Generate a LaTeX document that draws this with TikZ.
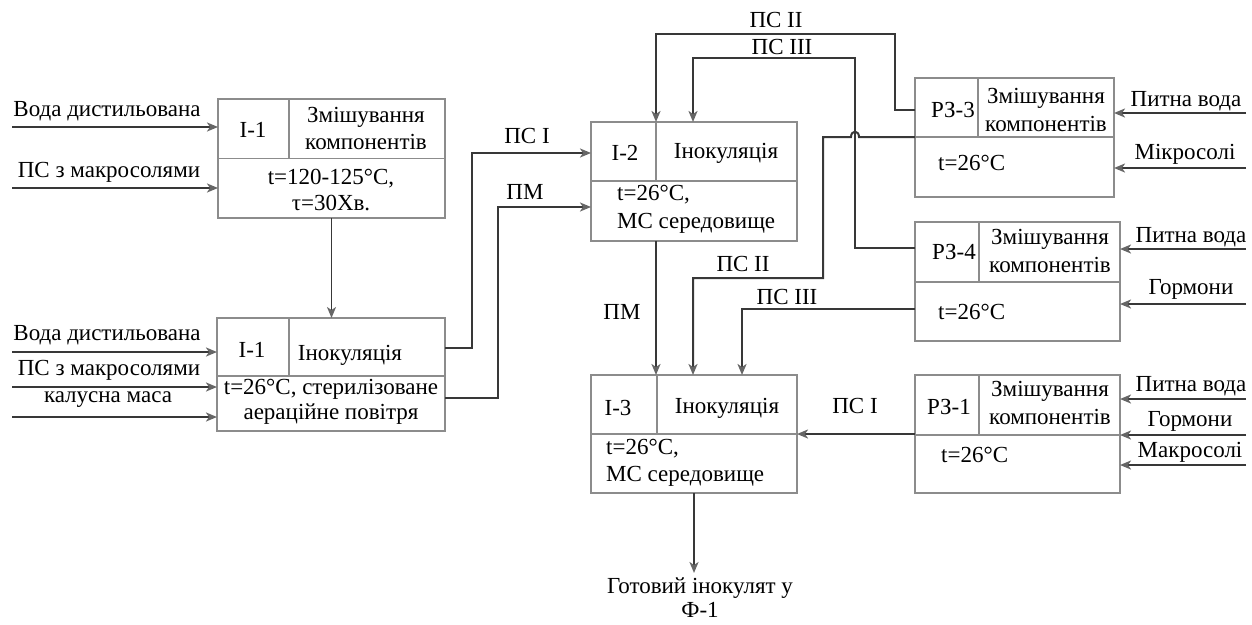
\documentclass[tikz,border=0pt]{standalone}
\usepackage{fontspec}
\setmainfont{Liberation Serif}
\usetikzlibrary{arrows.meta}
\tikzset{
  boxnode/.style 2 args={draw=black!45, line width=1.1pt, minimum width=#1, minimum height=#2, inner sep=0pt, outer sep=0pt},
  divline/.style={draw=black!45, line width=1.1pt},
  flow/.style={draw=black!78, line width=2pt, -{Stealth[length=11pt,width=9pt,inset=3pt,color=black!60]}},
  txt/.style={font=\fontsize{23}{27}\selectfont, inner sep=0pt, align=center},
  ltxt/.style={font=\fontsize{23}{28}\selectfont, inner sep=0pt, align=left, anchor=west},
}
\begin{document}
\begin{tikzpicture}[x=1pt,y=-1pt]
\useasboundingbox (0,0) rectangle (1252,624);

% boxes
\node[boxnode={227pt}{119pt}] (A) at (331.5,158.5) {};
\node[boxnode={228pt}{113pt}] (B) at (331,374.5) {};
\node[boxnode={206pt}{119pt}] (I2) at (694,181.5) {};
\node[boxnode={206pt}{118pt}] (I3) at (694,434) {};
\node[boxnode={199pt}{119pt}] (R3) at (1014.5,137.5) {};
\node[boxnode={205pt}{119pt}] (R4) at (1017.5,281.5) {};
\node[boxnode={205pt}{118pt}] (R1) at (1017.5,434) {};

% dividers
\draw[divline] (A.west |- 0,158.7) -- (A.east |- 0,158.7);
\draw[divline] (A.north -| 289,0) -- (289,158.7);
\draw[divline] (B.west |- 0,376) -- (B.east |- 0,376);
\draw[divline] (B.north -| 289,0) -- (289,376);
\draw[divline] (I2.west |- 0,181) -- (I2.east |- 0,181);
\draw[divline] (I2.north -| 656,0) -- (656,181);
\draw[divline] (I3.west |- 0,434) -- (I3.east |- 0,434);
\draw[divline] (I3.north -| 657,0) -- (657,434);
\draw[divline] (R3.west |- 0,137) -- (R3.east |- 0,137);
\draw[divline] (R3.north -| 978,0) -- (978,137);
\draw[divline] (R4.west |- 0,282) -- (R4.east |- 0,282);
\draw[divline] (R4.north -| 979,0) -- (979,282);
\draw[divline] (R1.west |- 0,435) -- (R1.east |- 0,435);
\draw[divline] (R1.north -| 979,0) -- (979,435);

% box texts
\node[txt] (A1) at (253,130) {I-1};
\node[txt] (A2) at (366,128) {Змішування\\компонентів};
\node[txt, font=\fontsize{23}{26}\selectfont] (A3) at (331,190) {t=120-125°C,\\τ=30Хв.};
\node[txt] (B1) at (252,350) {I-1};
\node[txt] (B2) at (350,355) {Інокуляція};
\node[txt, font=\fontsize{23}{25}\selectfont] (B3) at (331,402) {t=26°C, стерилізоване\\аераційне повітря};
\node[txt] (I21) at (625,153) {I-2};
\node[txt] (I22) at (726,153) {Інокуляція};
\node[ltxt] (I23) at (617,209) {t=26°C,\\МС середовище};
\node[txt] (I31) at (618,408) {I-3};
\node[txt] (I32) at (727,408) {Інокуляція};
\node[ltxt, font=\fontsize{23}{27}\selectfont] (I33) at (606,463) {t=26°C,\\МС середовище};
\node[txt] (R31) at (953,110) {РЗ-3};
\node[txt, font=\fontsize{23}{28}\selectfont] (R32) at (1046,110) {Змішування\\компонентів};
\node[ltxt] (R33) at (938,163) {t=26°C};
\node[txt] (R41) at (954,252) {РЗ-4};
\node[txt, font=\fontsize{23}{28}\selectfont] (R42) at (1050,251) {Змішування\\компонентів};
\node[ltxt] (R43) at (938,312) {t=26°C};
\node[txt] (R11) at (949,407) {РЗ-1};
\node[txt, font=\fontsize{23}{28}\selectfont] (R12) at (1050,403) {Змішування\\компонентів};
\node[ltxt] (R13) at (941,455) {t=26°C};

% left inputs
\coordinate (la1) at (12,127);
\coordinate (la2) at (12,188);
\coordinate (lb1) at (12,352);
\coordinate (lb2) at (12,387);
\coordinate (lb3) at (12,417);
\draw[flow] (la1) -- (la1 -| A.west);
\draw[flow] (la2) -- (la2 -| A.west);
\draw[flow] (lb1) -- (lb1 -| B.west);
\draw[flow] (lb2) -- (lb2 -| B.west);
\draw[flow] (lb3) -- (lb3 -| B.west);
\node[txt] (tla1) at (107,111) {Вода дистильована};
\node[txt] (tla2) at (109,172) {ПС з макросолями};
\node[txt] (tlb1) at (107,335) {Вода дистильована};
\node[txt] (tlb2) at (109,370) {ПС з макросолями};
\node[txt] (tlb3) at (108,400) {калусна маса};

% right inputs
\coordinate (r31) at (1246,113);
\coordinate (r32) at (1246,168);
\coordinate (r41) at (1246,249);
\coordinate (r42) at (1246,304);
\coordinate (r11) at (1246,399);
\coordinate (r12) at (1246,435);
\coordinate (r13) at (1246,465);
\draw[flow] (r31) -- (r31 -| R3.east);
\draw[flow] (r32) -- (r32 -| R3.east);
\draw[flow] (r41) -- (r41 -| R4.east);
\draw[flow] (r42) -- (r42 -| R4.east);
\draw[flow] (r11) -- (r11 -| R1.east);
\draw[flow] (r12) -- (r12 -| R1.east);
\draw[flow] (r13) -- (r13 -| R1.east);
\node[txt] (tr31) at (1186,101) {Питна вода};
\node[txt] (tr32) at (1185,154) {Мікросолі};
\node[txt] (tr41) at (1191,237) {Питна вода};
\node[txt] (tr42) at (1191,289) {Гормони};
\node[txt] (tr11) at (1191,386) {Питна вода};
\node[txt] (tr12) at (1190,421) {Гормони};
\node[txt] (tr13) at (1190,452) {Макросолі};

% A -> B
\draw[flow, line width=1.5pt] (A.south) -- (A.south |- B.north);

% B -> I2
\draw[flow] (B.east |- 0,348) -- (472,348) -- (472,153) -- (I2.west |- 0,153);
\draw[flow] (B.east |- 0,398) -- (498,398) -- (498,207) -- (I2.west |- 0,207);
\node[txt] (lpsI) at (527,136) {ПС I};
\node[txt] (lpm1) at (525,192) {ПМ};

% R3 -> I2 (ПС II)
\draw[flow] (R3.west |- 0,110) -- (895,110) -- (895,34) -- (656,34) -- (656,0 |- I2.north);
\node[txt] (lps2a) at (776,20) {ПС II};
% R4 -> I2 (ПС III)
\draw[flow] (R4.west |- 0,248) -- (855,248) -- (855,58) -- (693,58) -- (693,0 |- I2.north);
\node[txt] (lps3a) at (782,47) {ПС III};
% R3 -> I3 (ПС II)
\draw[flow] (R3.west |- 0,137) -- (859,137) .. controls (859,130) and (851,130) .. (851,137) -- (823,137) -- (823,278) -- (693,278) -- (693,0 |- I3.north);
\node[txt] (lps2b) at (743,264) {ПС II};
% R4 -> I3 (ПС III)
\draw[flow] (R4.west |- 0,309) -- (742,309) -- (742,0 |- I3.north);
\node[txt] (lps3b) at (787,297) {ПС III};
% I2 -> I3 (ПМ)
\draw[flow] (I2.south -| 656,0) -- (656,0 |- I3.north);
\node[txt] (lpm2) at (622,312) {ПМ};
% R1 -> I3 (ПС I)
\draw[flow] (R1.west) -- (I3.east);
\node[txt] (lpsIb) at (855,406) {ПС I};

% output
\coordinate (out) at (694,573);
\draw[flow] (I3.south -| out) -- (out);
\node[txt, font=\fontsize{23}{24}\selectfont] (tout) at (700,598) {Готовий інокулят у\\Ф-1};
\end{tikzpicture}
\end{document}
